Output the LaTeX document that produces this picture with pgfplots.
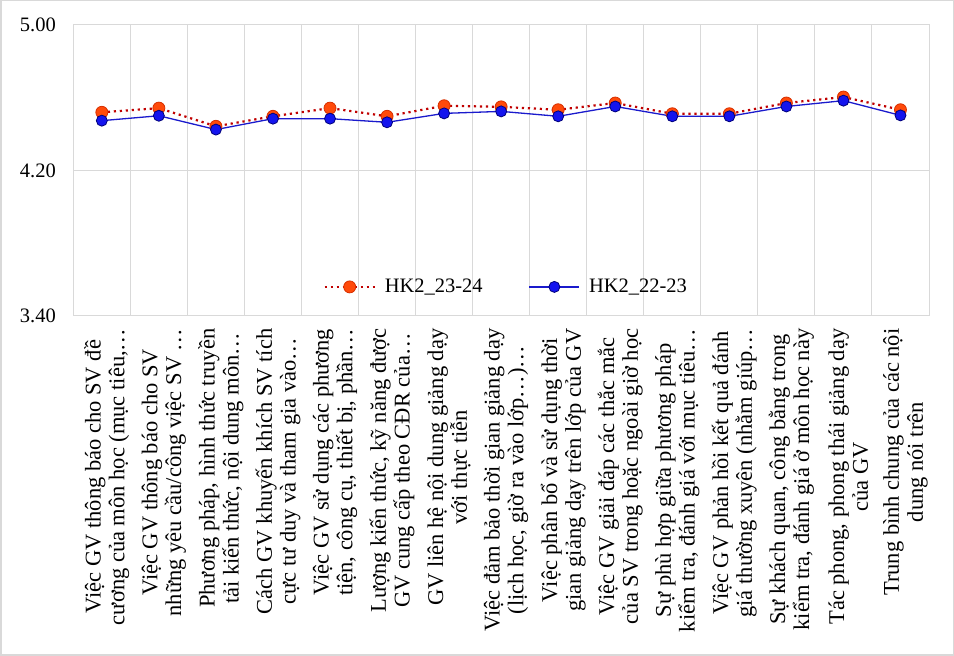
\documentclass[border=0pt]{standalone}
\usepackage{fontspec}
\setmainfont{Liberation Serif}
\usepackage{pgfplots}
\pgfplotsset{compat=1.18}
\definecolor{gridc}{HTML}{D9D9D9}
\definecolor{redline}{HTML}{C00000}
\definecolor{redfill}{HTML}{FF4A0A}
\definecolor{rededge}{HTML}{D83000}
\definecolor{bluefill}{HTML}{1414EE}
\definecolor{blueedge}{HTML}{00007A}
\definecolor{blueline}{HTML}{1A1ACC}
\begin{document}
\begin{tikzpicture}
\useasboundingbox (0,0) rectangle (954pt,656pt);
\draw[gridc, line width=1.5pt] (0.75pt,0.75pt) rectangle (953.25pt,655.25pt);
\begin{axis}[
  at={(73.3pt,340pt)}, anchor=south west,
  width=855.7pt, height=291pt, scale only axis,
  xmin=0.5, xmax=15.5, ymin=3.4, ymax=5.0,
  xtick={1,...,15},
  minor xtick={0.5,1.5,...,15.5},
  xminorgrids, ymajorgrids,
  ytick={3.4,4.2,5.0},
  major tick length=0pt, minor tick length=0pt,
  grid style={gridc, line width=1pt},
  minor grid style={gridc, line width=1pt},
  axis line style={gridc, line width=1pt},
  tick align=inside,
  /pgf/number format/.cd, fixed, fixed zerofill, precision=2, assume math mode=true,
  /pgfplots/.cd,
  yticklabel style={font=\fontsize{20.5}{24}\selectfont, xshift=-14pt},
  xticklabel style={font=\fontsize{22.5}{23.8}\selectfont, rotate=90, anchor=east, align=center, xshift=-9pt, yshift=-5pt},
  xticklabels={
    {Việc GV thông báo cho SV đề\\cương của môn học (mục tiêu,…},
    {Việc GV thông báo cho SV\\những yêu cầu/công việc SV …},
    {Phương pháp, hình thức truyền\\tải kiến thức, nội dung môn…},
    {Cách GV khuyến khích SV tích\\cực tư duy và tham gia vào…},
    {Việc GV sử dụng các phương\\tiện, công cụ, thiết bị, phần…},
    {Lượng kiến thức, kỹ năng được\\GV cung cấp theo CĐR của…},
    {GV liên hệ nội dung giảng dạy\\với thực tiễn},
    {Việc đảm bảo thời gian giảng dạy\\(lịch học, giờ ra vào lớp…)…},
    {Việc phân bổ và sử dụng thời\\gian giảng dạy trên lớp của GV},
    {Việc GV giải đáp các thắc mắc\\của SV trong hoặc ngoài giờ học},
    {Sự phù hợp giữa phương pháp\\kiểm tra, đánh giá với mục tiêu…},
    {Việc GV phản hồi kết quả đánh\\giá thường xuyên (nhằm giúp…},
    {Sự khách quan, công bằng trong\\kiểm tra, đánh giá ở môn học này},
    {Tác phong, phong thái giảng dạy\\của GV},
    {Trung bình chung của các nội\\dung nói trên}
  },
  legend style={at={(0.506,0.1)}, anchor=center, draw=none, fill=none,
    font=\fontsize{20.5}{24}\selectfont, legend columns=2,
    /tikz/every odd column/.append style={column sep=7pt},
    /tikz/every even column/.append style={column sep=44pt}},
  legend image code/.code={\draw[mark repeat=2,mark phase=2,#1] plot coordinates {(0pt,0pt) (25pt,0pt) (50pt,0pt)};},
  clip=false,
]
\addplot[redline, line width=2.2pt, dash pattern=on 2.2pt off 3.8pt,
  mark=*, mark size=6pt, mark options={solid, fill=redfill, draw=rededge, line width=0.8pt}]
  coordinates {
  (1,4.520) (2,4.543) (3,4.443) (4,4.498) (5,4.543)
  (6,4.498) (7,4.556) (8,4.550) (9,4.534) (10,4.571)
  (11,4.512) (12,4.512) (13,4.571) (14,4.604) (15,4.534)};
\addlegendentry{HK2\_23-24}
\addplot[blueline, line width=1.3pt,
  mark=*, mark size=5.5pt, mark options={solid, fill=bluefill, draw=blueedge, line width=0.8pt}]
  coordinates {
  (1,4.474) (2,4.501) (3,4.425) (4,4.485) (5,4.485)
  (6,4.465) (7,4.514) (8,4.525) (9,4.498) (10,4.552)
  (11,4.498) (12,4.498) (13,4.552) (14,4.584) (15,4.503)};
\addlegendentry{HK2\_22-23}
\end{axis}
\end{tikzpicture}
\end{document}
